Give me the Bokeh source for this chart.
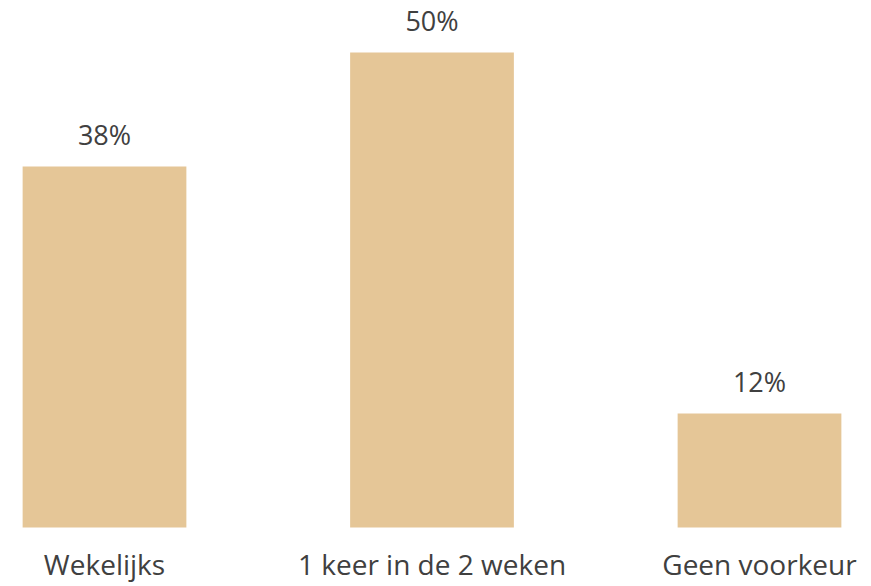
from bokeh.plotting import figure
from bokeh.models import ColumnDataSource, Range1d
from bokeh.core.properties import value
from bokeh.embed import file_html
from bokeh.resources import INLINE

categories = ["Wekelijks", "1 keer in de 2 weken", "Geen voorkeur"]
values = [38, 50, 12]
labels = ["38%", "50%", "12%"]

xs = list(range(len(categories)))
src = ColumnDataSource(dict(x=xs, top=values, label=labels, cat=categories, zero=[0] * len(xs)))

W, H = 871, 586
p = figure(width=W, height=H, output_backend="svg", toolbar_location=None,
           x_range=Range1d(-0.31756, 2.34198), y_range=Range1d(-6.2105, 55.474),
           min_border_left=0, min_border_right=0, min_border_top=0, min_border_bottom=0)
p.vbar(x="x", top="top", width=0.5, bottom=0, source=src, color="#E5C697", line_color=None)
p.text(x="x", y="top", text="label", source=src, text_align="center",
       text_baseline="alphabetic", y_offset=-32, text_font=value("Open Sans"),
       text_font_size="27px", text_color="#404040")
p.text(x="x", y="zero", text="cat", source=src, text_align="center",
       text_baseline="alphabetic", y_offset=36, text_font=value("Open Sans"),
       text_font_size="28px", text_color="#404040")
p.axis.visible = False
p.grid.visible = False
p.outline_line_color = None
p.background_fill_color = "white"
p.border_fill_color = "white"

open("out.html", "w").write(file_html(p, INLINE))
